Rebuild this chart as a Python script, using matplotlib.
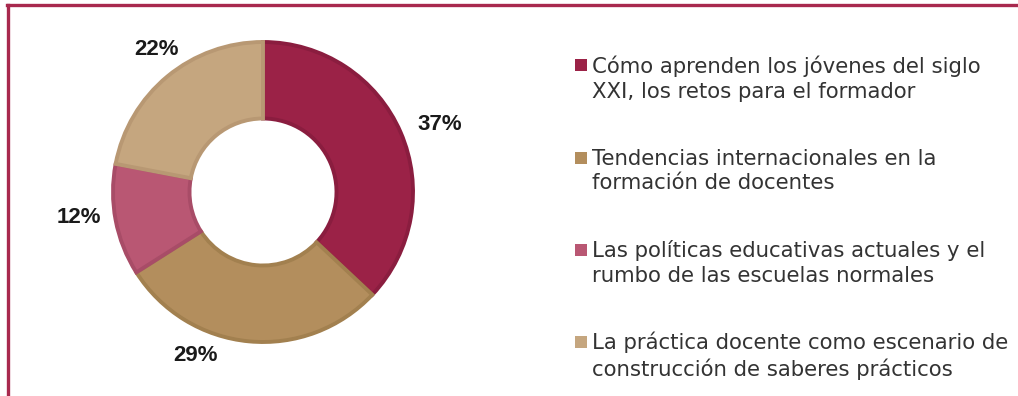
import matplotlib.pyplot as plt
from matplotlib.lines import Line2D
from matplotlib.patches import Rectangle

# datos del grafico
temas = [
    "Cómo aprenden los jóvenes del siglo\nXXI, los retos para el formador",
    "Tendencias internacionales en la\nformación de docentes",
    "Las políticas educativas actuales y el\nrumbo de las escuelas normales",
    "La práctica docente como escenario de\nconstrucción de saberes prácticos",
]
porcentajes = [37, 29, 12, 22]
colores = ["#9B2247", "#B38E5D", "#B95773", "#C5A67F"]
bordes = ["#8A1D3F", "#A2804F", "#A84C67", "#B89873"]

W, H = 1018, 396
fig = plt.figure(figsize=(W / 100, H / 100), dpi=100)

# marco superior e izquierdo
borde = "#A8294E"
fig.add_artist(Line2D([7 / W, 1], [1 - 5 / H, 1 - 5 / H], color=borde, lw=2.4))
fig.add_artist(Line2D([8 / W, 8 / W], [0, 1 - 5 / H], color=borde, lw=2.4))

# dona
cx, cy, r = 263, H - 192, 150
ax = fig.add_axes([(cx - r) / W, (cy - r) / H, 2 * r / W, 2 * r / H])
wedges, _, etiquetas = ax.pie(
    porcentajes, colors=colores, startangle=90, counterclock=False,
    radius=1.0, autopct=lambda p: f"{p:.0f}%", pctdistance=1.24,
    wedgeprops=dict(width=0.51, linewidth=2.8),
    textprops=dict(fontsize=16, fontweight="bold", color="#1a1a1a",
                   family="Liberation Sans", fontstretch="normal"))
for w, c in zip(wedges, bordes):
    w.set_edgecolor(c)
# posiciones de las etiquetas alrededor de la dona
pos_etiquetas = [(1.18, 0.45), (-0.45, -1.09), (-1.23, -0.17), (-0.71, 0.95)]
for t, p in zip(etiquetas, pos_etiquetas):
    t.set_position(p)
ax.set_xlim(-1, 1)
ax.set_ylim(-1, 1)
ax.set_aspect("equal")
ax.axis("off")

# leyenda a la derecha
y_centros = [78.5, 171, 263, 355.5]
for texto, col, yc in zip(temas, colores, y_centros):
    fig.text(592 / W, 1 - yc / H, texto, ha="left", va="center",
             fontsize=15.3, color="#333333", family="DejaVu Sans", linespacing=1.3)
    y1 = yc - 13.5
    fig.add_artist(Rectangle((575 / W, 1 - (y1 + 6) / H), 12 / W, 12 / H,
                             transform=fig.transFigure, color=col, lw=0))

fig.savefig("out.png", dpi=100)
